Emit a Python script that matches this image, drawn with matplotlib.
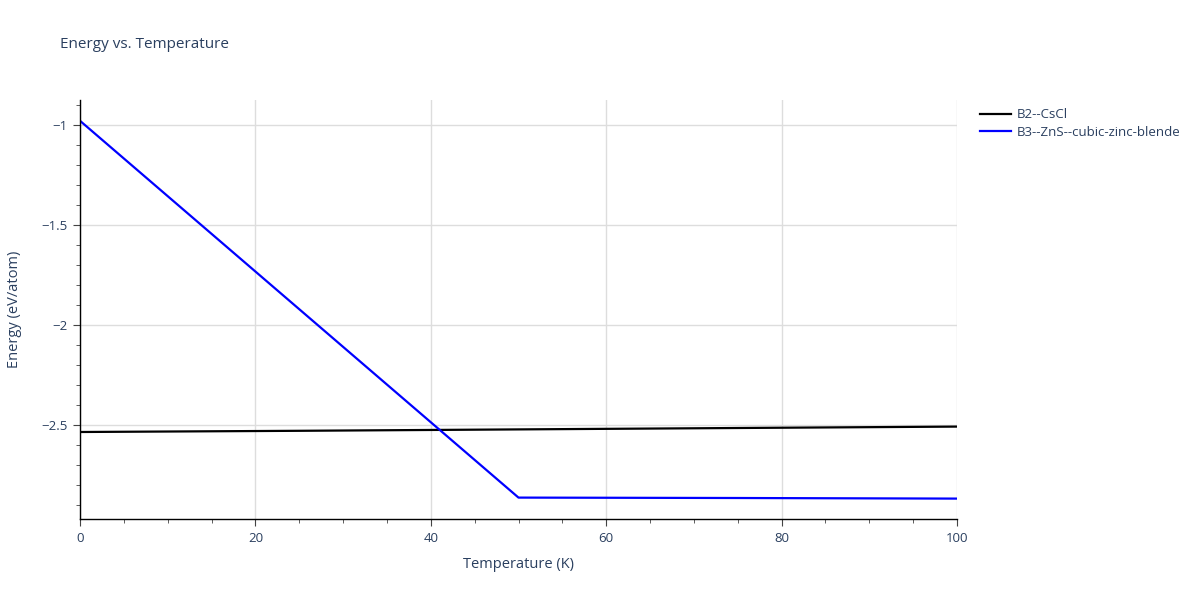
import matplotlib.pyplot as plt
from matplotlib.ticker import MultipleLocator, FuncFormatter

# data
temp_b2 = [0, 25, 50, 75, 100]
energy_b2 = [-2.535, -2.529, -2.522, -2.515, -2.508]
temp_b3 = [0, 50, 75, 100]
energy_b3 = [-0.979, -2.863, -2.865, -2.868]

labels = ['B2--CsCl', 'B3--ZnS--cubic-zinc-blende']
colors = ['black', '#0000ff']

txt = '#2a3f5f'
plt.rcParams['font.family'] = ['Open Sans', 'DejaVu Sans']

fig = plt.figure(figsize=(12, 6), dpi=100)
ax = fig.add_axes([80 / 1200, 1 - 519 / 600, 877 / 1200, 419 / 600])

ax.plot(temp_b2, energy_b2, color=colors[0], lw=1.6, label=labels[0])
ax.plot(temp_b3, energy_b3, color=colors[1], lw=1.6, label=labels[1])

ax.set_xlim(0, 100)
ax.set_ylim(-2.97, -0.875)

ax.xaxis.set_major_locator(MultipleLocator(20))
ax.xaxis.set_minor_locator(MultipleLocator(5))
ax.yaxis.set_major_locator(MultipleLocator(0.5))
ax.yaxis.set_minor_locator(MultipleLocator(0.1))


def fmt(v, pos):
    return ('%g' % v).replace('-', '\u2212')


ax.yaxis.set_major_formatter(FuncFormatter(fmt))
ax.xaxis.set_major_formatter(FuncFormatter(fmt))

ax.grid(True, which='major', color='#dddddd', lw=1)
ax.set_axisbelow(True)
for s in ['top', 'right']:
    ax.spines[s].set_visible(False)
for s in ['left', 'bottom']:
    ax.spines[s].set_color('black')
    ax.spines[s].set_linewidth(1)

ax.tick_params(which='major', direction='out', length=5, color='#444444',
               labelsize=9.5, labelcolor=txt, pad=4)
ax.tick_params(which='minor', direction='out', length=3, color='#444444')

ax.set_xlabel('Temperature (K)', fontsize=10.5, color=txt, labelpad=9)
ax.set_ylabel('Energy (eV/atom)', fontsize=10.5, color=txt, labelpad=14)

fig.text(60 / 1200, 1 - 45 / 600, 'Energy vs. Temperature', fontsize=11,
         color=txt, va='center', ha='left')

leg = ax.legend(loc='upper left', bbox_to_anchor=(975 / 1200, 1 - 103 / 600),
                bbox_transform=fig.transFigure, frameon=False, fontsize=9.5,
                handlelength=2.3, handletextpad=0.5, labelspacing=0.35,
                borderaxespad=0)
for t in leg.get_texts():
    t.set_color(txt)

fig.savefig('out.png', dpi=100)
